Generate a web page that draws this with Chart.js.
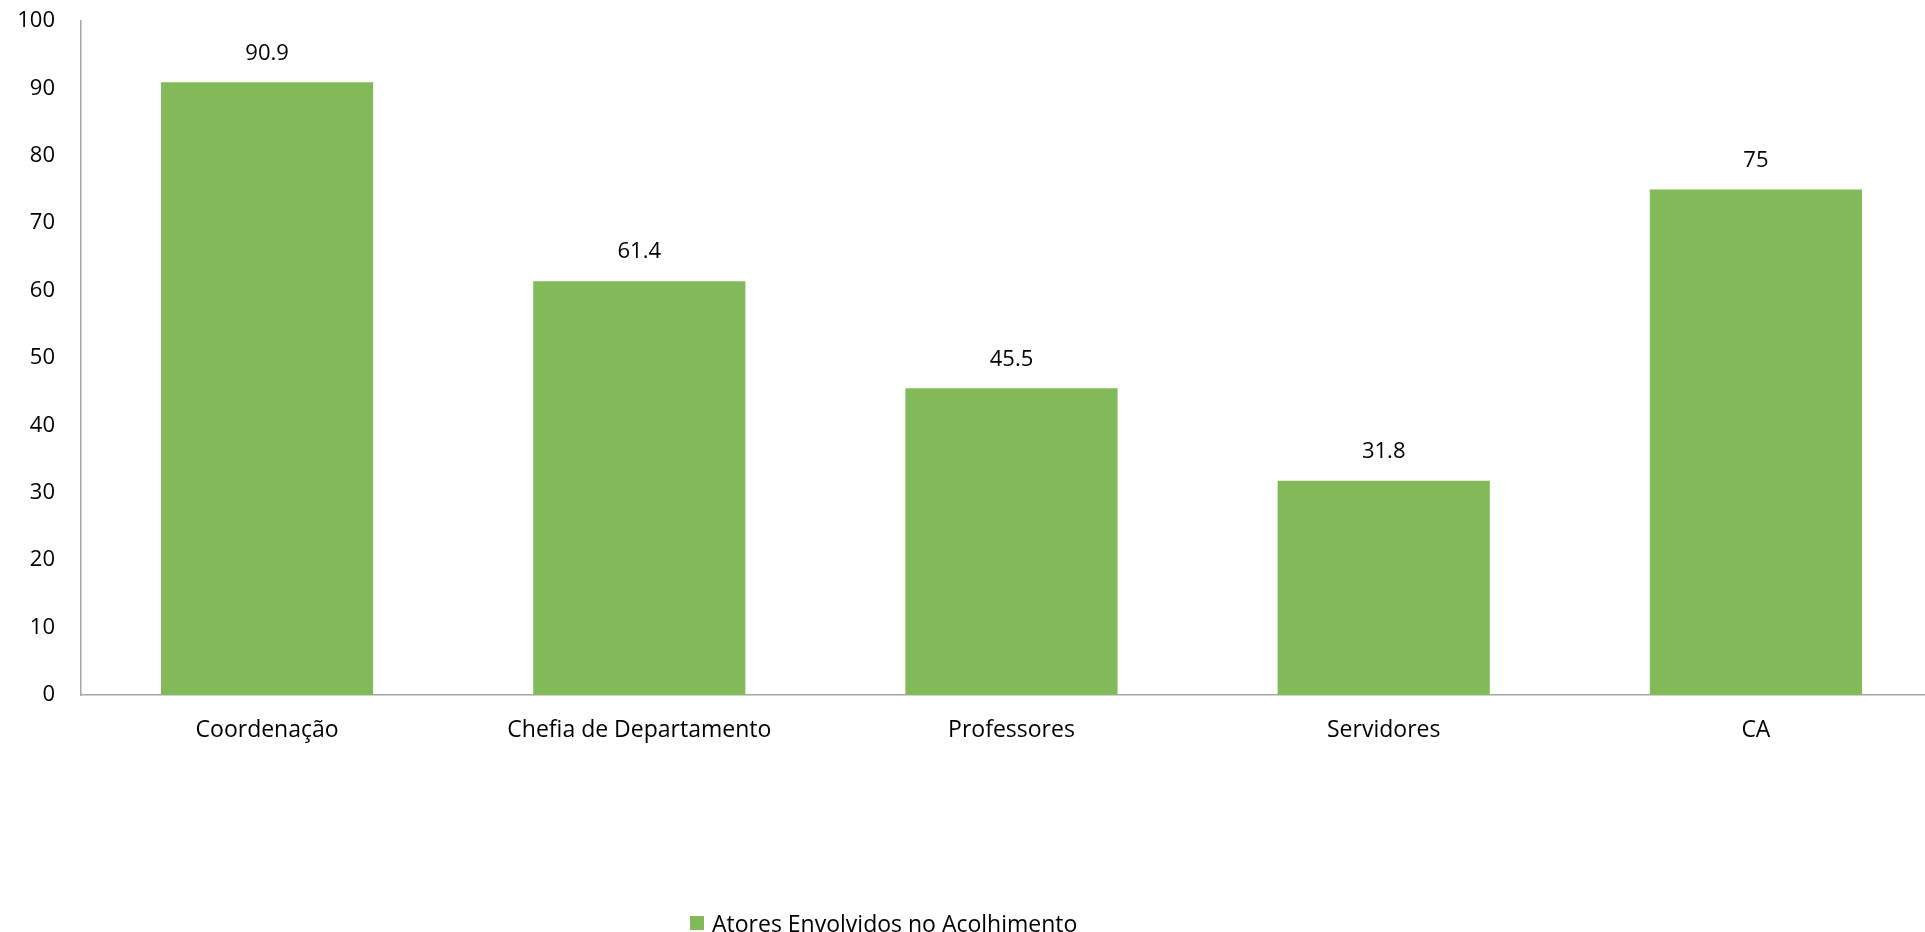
<!DOCTYPE html>
<html>
<head>
<meta charset="utf-8">
<script src="https://cdn.jsdelivr.net/npm/chart.js@4.4.0/dist/chart.umd.min.js"></script>
<style>
  html, body { margin: 0; padding: 0; background: #fff; overflow: hidden; width: 1925px; height: 932px; }
  #wrap { position: absolute; left: 0; top: 0; width: 1942px; height: 932px; }
  #legend { position: absolute; left: 690px; top: 907px; font-family: "Open Sans", sans-serif; font-size: 23px; color: #000; display: flex; align-items: center; white-space: nowrap; }
  #legend .box { width: 14px; height: 14px; background: #82BA5A; margin-right: 8px; }
</style>
</head>
<body>
<div id="wrap"><canvas id="c" width="1942" height="932"></canvas></div>
<div id="legend"><span class="box"></span><span id="legtext"></span></div>
<script>
const categories = ["Coordenação", "Chefia de Departamento", "Professores", "Servidores", "CA"];
const seriesName = "Atores Envolvidos no Acolhimento";
const values = [90.9, 61.4, 45.5, 31.8, 75];
const yTicks = [0, 10, 20, 30, 40, 50, 60, 70, 80, 90, 100];

const FONT = '"Open Sans", sans-serif';
const GREEN = '#82BA5A';
document.getElementById('legtext').textContent = seriesName;

const dataLabels = {
  id: 'dataLabels',
  afterDatasetsDraw(chart) {
    const ctx = chart.ctx;
    const meta = chart.getDatasetMeta(0);
    ctx.save();
    ctx.font = '22px ' + FONT;
    ctx.fillStyle = '#000';
    ctx.textAlign = 'center';
    ctx.textBaseline = 'middle';
    meta.data.forEach((bar, i) => {
      ctx.fillText(String(values[i]), bar.x, bar.y - 29);
    });
    ctx.restore();
  }
};

new Chart(document.getElementById('c'), {
  type: 'bar',
  data: {
    labels: categories,
    datasets: [{
      label: seriesName,
      data: values,
      backgroundColor: GREEN,
      borderWidth: 0,
      barPercentage: 0.57,
      categoryPercentage: 1.0
    }]
  },
  options: {
    responsive: false,
    animation: false,
    layout: { padding: { top: 21, left: 0, right: 0, bottom: 0 } },
    plugins: { legend: { display: false }, tooltip: { enabled: false } },
    scales: {
      x: {
        grid: { display: false, drawTicks: false },
        border: { display: true, color: '#A6A6A6', width: 1.5 },
        ticks: { color: '#000', font: { family: FONT, size: 23 }, padding: 22, maxRotation: 0, autoSkip: false },
        afterFit: s => { s.height = 237; s.paddingLeft = 0; s.paddingRight = 0; }
      },
      y: {
        min: 0, max: 100,
        grid: { display: false, drawTicks: false },
        border: { display: true, color: '#A6A6A6', width: 1.5 },
        ticks: { color: '#000', font: { family: FONT, size: 22 }, padding: 26, stepSize: 10,
                 callback: (v) => yTicks.includes(v) ? String(v) : '' },
        afterFit: s => { s.width = 81; s.paddingTop = 0; s.paddingBottom = 0; }
      }
    }
  },
  plugins: [dataLabels]
});
</script>
</body>
</html>
